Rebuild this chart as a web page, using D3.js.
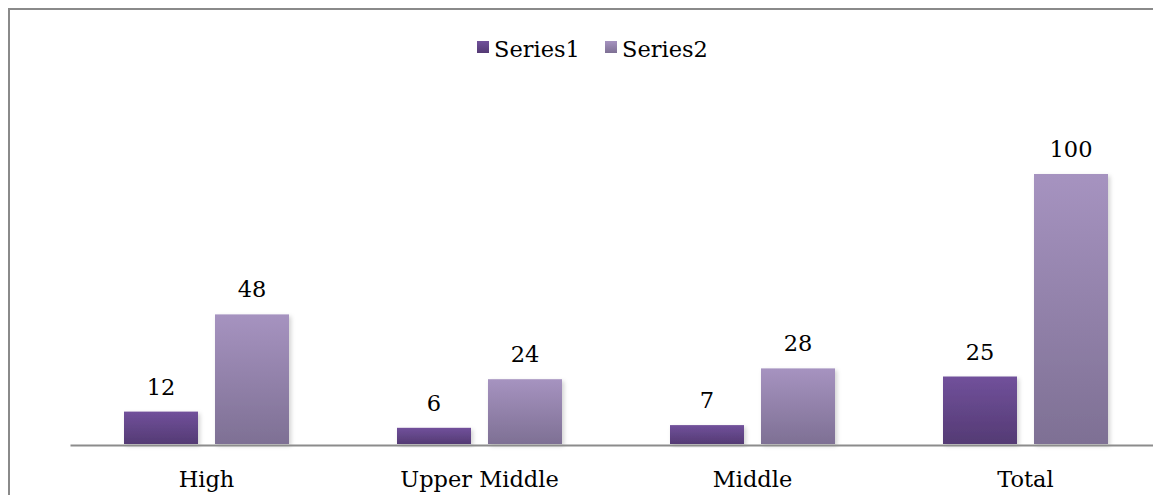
<!DOCTYPE html>
<html>
<head>
<meta charset="utf-8">
<script src="https://cdn.jsdelivr.net/npm/d3@7"></script>
<style>
  body { margin: 0; background: #fff; }
  svg { display: block; }
</style>
</head>
<body>
<div id="chart"></div>
<script>
// data
const categories = ["High", "Upper Middle", "Middle", "Total"];
const seriesNames = ["Series1", "Series2"];
const series1 = [12, 6, 7, 25];
const series2 = [48, 24, 28, 100];

const W = 1153, H = 495;
const font = "'DejaVu Serif', serif";
const fontSize = "22.5px";

const svg = d3.select("#chart").append("svg")
    .attr("width", W)
    .attr("height", H);

// gradients + shadow
const defs = svg.append("defs");
const grads = [
    { id: "g1", top: "#71519b", bottom: "#543a74" },
    { id: "g2", top: "#a693c0", bottom: "#7e7094" }
];
grads.forEach(g => {
    const lg = defs.append("linearGradient")
        .attr("id", g.id).attr("x1", 0).attr("y1", 0).attr("x2", 0).attr("y2", 1);
    lg.append("stop").attr("offset", "0%").attr("stop-color", g.top);
    lg.append("stop").attr("offset", "100%").attr("stop-color", g.bottom);
});
defs.append("filter").attr("id", "shadow")
    .attr("x", "-20%").attr("y", "-20%").attr("width", "140%").attr("height", "140%")
    .append("feDropShadow")
    .attr("dx", 2).attr("dy", 2).attr("stdDeviation", 2)
    .attr("flood-color", "#000").attr("flood-opacity", 0.18);

// outer border (right/bottom edges fall outside the window)
svg.append("rect")
    .attr("x", 9).attr("y", 9)
    .attr("width", 1300).attr("height", 700)
    .attr("fill", "none")
    .attr("stroke", "#8a8a8a")
    .attr("stroke-width", 2);

// scales
const x0 = d3.scaleBand().domain(categories).range([70, 1162]);
const x1 = d3.scaleBand().domain(seriesNames).range([0, x0.bandwidth()])
    .paddingInner(17 / 91).paddingOuter(0.5934);
const y = d3.scaleLinear().domain([0, 100]).range([444, 174]);

const rows = categories.map((c, i) => ({
    cat: c,
    vals: [
        { s: "Series1", v: series1[i], fill: "url(#g1)" },
        { s: "Series2", v: series2[i], fill: "url(#g2)" }
    ]
}));

const groups = svg.selectAll(".grp")
    .data(rows)
    .enter().append("g")
    .attr("class", "grp")
    .attr("transform", d => `translate(${x0(d.cat)},0)`);

groups.selectAll("rect")
    .data(d => d.vals)
    .enter().append("rect")
    .attr("x", d => x1(d.s))
    .attr("y", d => y(d.v))
    .attr("width", x1.bandwidth())
    .attr("height", d => y(0) - y(d.v))
    .attr("fill", d => d.fill)
    .attr("filter", "url(#shadow)");

// value labels
groups.selectAll(".lbl")
    .data(d => d.vals)
    .enter().append("text")
    .attr("class", "lbl")
    .attr("x", d => x1(d.s) + x1.bandwidth() / 2)
    .attr("y", d => y(d.v) - 17)
    .attr("text-anchor", "middle")
    .style("font-family", font)
    .style("font-size", fontSize)
    .style("fill", "#000")
    .text(d => d.v);

// x axis
const xAxis = svg.append("g")
    .attr("transform", "translate(0,445)")
    .call(d3.axisBottom(x0).tickSize(0).tickSizeOuter(0).tickPadding(26));
xAxis.select(".domain").attr("stroke", "#8c8c8c").attr("stroke-width", 2);
xAxis.selectAll("text")
    .style("font-family", font)
    .style("font-size", fontSize)
    .style("fill", "#000");

// legend
const legend = svg.append("g");
const legendItems = [
    { name: seriesNames[0], fill: "url(#g1)", x: 477 },
    { name: seriesNames[1], fill: "url(#g2)", x: 605 }
];
legendItems.forEach(it => {
    legend.append("rect")
        .attr("x", it.x).attr("y", 41)
        .attr("width", 12).attr("height", 12)
        .attr("fill", it.fill);
    legend.append("text")
        .attr("x", it.x + 17).attr("y", 57)
        .style("font-family", font)
        .style("font-size", fontSize)
        .style("fill", "#000")
        .text(it.name);
});
</script>
</body>
</html>
